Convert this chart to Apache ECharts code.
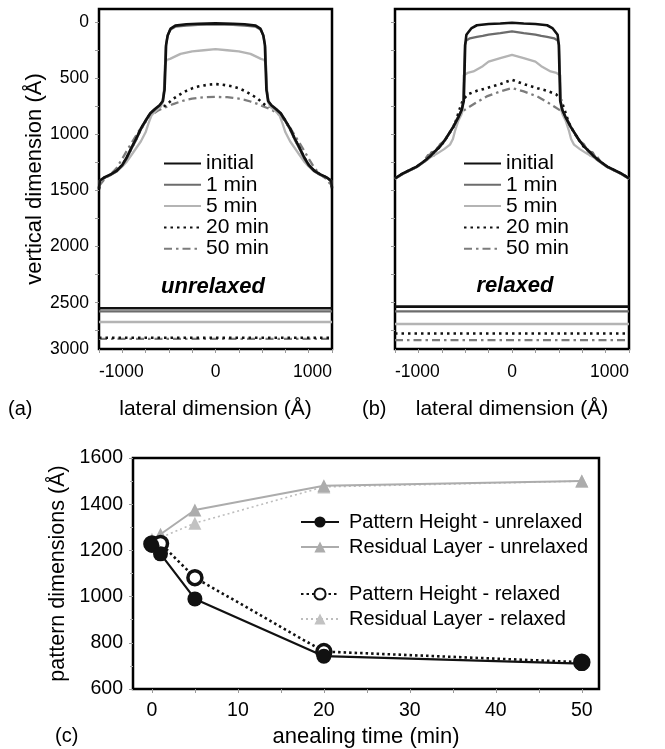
<!DOCTYPE html>
<html>
<head>
<meta charset="utf-8">
<script src="https://cdn.jsdelivr.net/npm/echarts@6/dist/echarts.min.js"></script>
<style>
html, body { margin: 0; padding: 0; background: #fff; }
#main { width: 665px; height: 749px; }
</style>
</head>
<body>
<div id="main"></div>
<script>
// tick labels
var profileTicks = [0, 500, 1000, 1500, 2000, 2500, 3000];
var lateralTicks = [-1000, 0, 1000];
var timeTicks = [0, 10, 20, 30, 40, 50];
var timeMinor = [0, 5, 10, 15, 20, 25, 30, 35, 40, 45, 50];

// (c) annealing data
var times = [0, 1, 5, 20, 50];
var heightUnrelaxed = [1222, 1185, 990, 742, 710];
var residualUnrelaxed = [1240, 1270, 1375, 1480, 1500];
var heightRelaxed = [1228, 1230, 1082, 762, 716];
var residualRelaxed = [1248, 1255, 1318, 1475, 1500];

var curveNames = ['initial', '1 min', '5 min', '20 min', '50 min'];

// (a) unrelaxed profiles [lateral, vertical]
var initialA = [[-1000,1480],[-993,1410],[-950,1380],[-900,1355],[-850,1325],[-800,1270],[-760,1200],[-720,1115],[-680,1035],[-640,945],[-600,875],[-560,810],[-520,772],[-480,738],[-452,700],[-437,600],[-430,400],[-424,200],[-410,115],[-385,55],[-345,28],[-250,16],[-150,12],[0,8],[150,12],[250,16],[345,28],[385,55],[410,115],[424,200],[430,400],[437,600],[452,700],[480,738],[520,772],[560,810],[600,875],[640,945],[680,1035],[720,1115],[760,1200],[800,1270],[850,1325],[900,1355],[950,1380],[993,1410],[1000,1480]];
var min1A = [[-1000,1470],[-993,1412],[-950,1384],[-900,1360],[-850,1330],[-800,1278],[-760,1210],[-720,1125],[-680,1045],[-640,955],[-600,882],[-560,816],[-520,778],[-480,742],[-455,705],[-440,600],[-433,400],[-427,220],[-413,125],[-390,65],[-345,38],[-250,28],[-150,22],[0,18],[150,22],[250,28],[345,38],[390,65],[413,125],[427,220],[433,400],[440,600],[455,705],[480,742],[520,778],[560,816],[600,882],[640,955],[680,1045],[720,1125],[760,1210],[800,1278],[850,1330],[900,1360],[950,1384],[993,1412],[1000,1470]];
var min5A = [[-1000,1475],[-993,1410],[-950,1382],[-900,1358],[-850,1330],[-800,1285],[-760,1240],[-720,1180],[-680,1120],[-640,1060],[-600,980],[-575,900],[-550,830],[-510,785],[-470,752],[-448,700],[-440,550],[-434,380],[-420,335],[-390,325],[-350,305],[-300,280],[-200,258],[-100,248],[0,238],[100,248],[200,258],[300,280],[350,305],[390,325],[420,335],[434,380],[440,550],[448,700],[470,752],[510,785],[550,830],[575,900],[600,980],[640,1060],[680,1120],[720,1180],[760,1240],[800,1285],[850,1330],[900,1358],[950,1382],[993,1410],[1000,1475]];
var min20A = [[-1000,1490],[-993,1415],[-950,1382],[-900,1357],[-850,1326],[-800,1272],[-760,1203],[-720,1118],[-680,1038],[-640,950],[-600,880],[-560,815],[-520,778],[-480,752],[-434,744],[-400,715],[-363,680],[-300,640],[-250,610],[-200,588],[-150,572],[-100,562],[-50,554],[0,550],[50,554],[100,562],[150,572],[200,588],[250,610],[300,640],[363,680],[400,715],[434,744],[480,752],[520,778],[560,815],[600,880],[640,950],[680,1038],[720,1118],[760,1203],[800,1272],[850,1326],[900,1357],[950,1382],[993,1415],[1000,1490]];
var min50A = [[-1000,1460],[-950,1395],[-900,1355],[-850,1300],[-800,1215],[-750,1125],[-700,1040],[-650,955],[-600,880],[-550,825],[-500,790],[-450,765],[-400,745],[-363,728],[-300,705],[-250,690],[-200,680],[-150,672],[-100,667],[0,664],[100,667],[150,672],[200,680],[250,690],[300,705],[363,728],[400,745],[450,765],[500,790],[550,825],[600,880],[650,955],[700,1040],[750,1125],[800,1215],[850,1300],[900,1355],[950,1395],[1000,1460]];
var residualA = [2550, 2578, 2672, 2812, 2822];

// (b) relaxed profiles
var initialB = [[-1000,1390],[-929,1345],[-815,1286],[-760,1245],[-701,1196],[-660,1150],[-615,1107],[-573,1048],[-535,985],[-501,929],[-460,850],[-430,780],[-412,700],[-406,450],[-400,200],[-390,110],[-345,50],[-300,25],[-200,14],[-100,10],[0,2],[100,10],[200,14],[300,25],[345,50],[390,110],[400,200],[406,450],[412,700],[430,780],[460,850],[501,929],[535,985],[573,1048],[615,1107],[660,1150],[701,1196],[760,1245],[815,1286],[929,1345],[1000,1390]];
var min1B = [[-1000,1393],[-929,1348],[-815,1290],[-760,1250],[-726,1226],[-690,1160],[-650,1150],[-613,1085],[-573,1052],[-535,990],[-501,932],[-460,852],[-432,782],[-415,700],[-409,450],[-402,200],[-390,160],[-360,142],[-300,128],[-250,120],[-200,108],[-100,95],[0,80],[100,95],[200,108],[250,120],[300,128],[360,142],[390,160],[402,200],[409,450],[415,700],[432,782],[460,852],[501,932],[535,990],[573,1052],[613,1085],[650,1150],[690,1160],[726,1226],[760,1250],[815,1290],[929,1348],[1000,1393]];
var min5B = [[-1000,1396],[-929,1350],[-815,1292],[-760,1250],[-700,1205],[-640,1170],[-580,1130],[-530,1090],[-505,1040],[-485,960],[-460,880],[-432,820],[-420,780],[-416,600],[-412,470],[-380,450],[-330,437],[-250,390],[-200,350],[-100,318],[0,290],[100,318],[200,350],[250,390],[330,437],[380,450],[412,470],[416,600],[420,780],[432,820],[460,880],[485,960],[505,1040],[530,1090],[580,1130],[640,1170],[700,1205],[760,1250],[815,1292],[929,1350],[1000,1396]];
var min20B = [[-1000,1390],[-929,1346],[-815,1288],[-760,1247],[-701,1198],[-660,1152],[-615,1110],[-573,1050],[-535,988],[-501,932],[-480,880],[-450,780],[-419,690],[-376,640],[-300,610],[-216,586],[-150,565],[-100,550],[-50,530],[0,512],[50,530],[100,550],[150,565],[216,586],[300,610],[376,640],[419,690],[450,780],[480,880],[501,932],[535,988],[573,1050],[615,1110],[660,1152],[701,1198],[760,1247],[815,1288],[929,1346],[1000,1390]];
var min50B = [[-1000,1392],[-929,1347],[-815,1289],[-760,1246],[-715,1180],[-680,1210],[-640,1120],[-600,1080],[-560,1030],[-520,960],[-485,890],[-450,820],[-405,780],[-360,750],[-300,710],[-216,660],[-100,615],[0,585],[100,615],[216,660],[300,710],[360,750],[405,780],[450,820],[485,890],[520,960],[560,1030],[600,1080],[640,1120],[680,1210],[715,1180],[760,1246],[815,1289],[929,1347],[1000,1392]];
var residualB = [2535, 2578, 2690, 2775, 2833];

// the frame of (a) and (b) ends a bit above 3000; its last label sits on the frame
var profAxisMin = -120;
var profAxisMax = 2913;

var FONT = '"Liberation Sans", Arial, sans-serif';
var curveStyles = [
	{ color: '#111', width: 2.6, type: 'solid' },
	{ color: '#6c6c6c', width: 2.3, type: 'solid' },
	{ color: '#b4b4b4', width: 2.3, type: 'solid' },
	{ color: '#111', width: 2.6, type: [2.5, 4] },
	{ color: '#7c7c7c', width: 2.3, type: [8, 4, 2.5, 4] }
];

function plain(v) { return String(v); }

function profileSeries(idx, curves, residual) {
	var out = [];
	for (var i = 0; i < curves.length; i++) {
		var st = curveStyles[i];
		var common = {
			name: curveNames[i],
			type: 'line',
			xAxisIndex: idx,
			yAxisIndex: idx,
			symbol: 'none',
			silent: true,
			animation: false,
			z: 10 - i,
			itemStyle: { color: st.color },
			lineStyle: { color: st.color, width: st.width, type: st.type }
		};
		out.push(Object.assign({}, common, { data: curves[i] }));
		out.push(Object.assign({}, common, { data: [[-1000, residual[i]], [1000, residual[i]]] }));
	}
	return out;
}

function pairs(xs, ys) {
	var d = [];
	for (var i = 0; i < xs.length; i++) d.push([xs[i], ys[i]]);
	return d;
}

function lateralAxis(gi) {
	return {
		type: 'value', gridIndex: gi, min: -1000, max: 1000,
		axisLine: { show: false, onZero: false },
		splitLine: { show: false },
		axisTick: { show: true, length: 4, lineStyle: { color: '#999' },
			customValues: [-1000, -800, -600, -400, -200, 0, 200, 400, 600, 800, 1000] },
		axisLabel: { customValues: lateralTicks, formatter: plain, color: '#000', fontFamily: FONT, fontSize: 17.5,
			margin: 14, alignMinLabel: 'left', alignMaxLabel: 'right' },
		name: 'lateral dimension (Å)', nameLocation: 'middle', nameGap: 50,
		nameTextStyle: { color: '#000', fontFamily: FONT, fontSize: 21 }
	};
}

function profileAxis(gi, showLabels) {
	var ax = {
		type: 'value', gridIndex: gi, inverse: true, min: profAxisMin, max: profAxisMax,
		axisLine: { show: false, onZero: false },
		splitLine: { show: false },
		axisTick: { show: true, length: 4, lineStyle: { color: '#999' },
			customValues: [0, 250, 500, 750, 1000, 1250, 1500, 1750, 2000, 2250, 2500, 2750] },
		axisLabel: {
			show: showLabels,
			customValues: profileTicks.map(function (v) { return Math.min(v, profAxisMax); }),
			formatter: function (v) { return v >= profAxisMax ? String(profileTicks[profileTicks.length - 1]) : String(v); },
			color: '#000', fontFamily: FONT, fontSize: 17.5, margin: 10
		}
	};
	if (showLabels) {
		ax.name = 'vertical dimension (Å)';
		ax.nameLocation = 'middle';
		ax.nameGap = 46;
		ax.nameTextStyle = { color: '#000', fontFamily: FONT, fontSize: 22 };
	}
	return ax;
}

var series = [].concat(
	profileSeries(0, [initialA, min1A, min5A, min20A, min50A], residualA),
	profileSeries(1, [initialB, min1B, min5B, min20B, min50B], residualB)
);

series.push({
	name: 'Residual Layer - relaxed', type: 'line', xAxisIndex: 2, yAxisIndex: 2,
	data: pairs(times, residualRelaxed), symbol: 'triangle', symbolSize: 13, z: 20,
	itemStyle: { color: '#c2c2c2' },
	lineStyle: { color: '#bdbdbd', width: 1.6, type: [2, 3] }
});
series.push({
	name: 'Residual Layer - unrelaxed', type: 'line', xAxisIndex: 2, yAxisIndex: 2,
	data: pairs(times, residualUnrelaxed), symbol: 'triangle', symbolSize: 13, z: 21,
	itemStyle: { color: '#acacac' },
	lineStyle: { color: '#acacac', width: 2 }
});
series.push({
	name: 'Pattern Height - relaxed', type: 'line', xAxisIndex: 2, yAxisIndex: 2,
	data: pairs(times, heightRelaxed), symbol: 'circle', symbolSize: 14, z: 22,
	itemStyle: { color: '#fff', borderColor: '#111', borderWidth: 3.5 },
	lineStyle: { color: '#111', width: 2.6, type: [2.5, 3] }
});
series.push({
	name: 'Pattern Height - unrelaxed', type: 'line', xAxisIndex: 2, yAxisIndex: 2,
	data: pairs(times, heightUnrelaxed), symbol: 'circle', symbolSize: 15, z: 23,
	itemStyle: { color: '#111' },
	lineStyle: { color: '#111', width: 2.2 }
});

var legendBase = {
	orient: 'vertical', padding: 0, selectedMode: false,
	itemWidth: 37, itemHeight: 10, itemGap: 0.3,
	itemStyle: { opacity: 0 },
	textStyle: { color: '#000', fontFamily: FONT, fontSize: 21 }
};
var legendC = {
	orient: 'vertical', padding: 0, selectedMode: false,
	itemWidth: 38, itemHeight: 14, itemGap: 5,
	textStyle: { color: '#000', fontFamily: FONT, fontSize: 20, padding: [0, 0, 0, 5] }
};

var option = {
	backgroundColor: '#fff',
	animation: false,
	grid: [
		{ left: 99, top: 9, width: 233, height: 340, show: true, borderColor: '#000', borderWidth: 2.5 },
		{ left: 395, top: 9, width: 234, height: 340, show: true, borderColor: '#000', borderWidth: 2.5 },
		{ left: 133, top: 458, width: 466, height: 232, show: true, borderColor: '#000', borderWidth: 2.5 }
	],
	xAxis: [
		lateralAxis(0),
		lateralAxis(1),
		{
			type: 'value', gridIndex: 2, min: -2.2, max: 52,
			axisLine: { show: false, onZero: false }, splitLine: { show: false },
			axisTick: { show: true, length: 4, lineStyle: { color: '#999' }, customValues: timeMinor },
			axisLabel: { customValues: timeTicks, formatter: plain, color: '#000', fontFamily: FONT, fontSize: 19.5, margin: 12 },
			name: 'anealing time (min)', nameLocation: 'middle', nameGap: 37,
			nameTextStyle: { color: '#000', fontFamily: FONT, fontSize: 22 }
		}
	],
	yAxis: [
		profileAxis(0, true),
		profileAxis(1, false),
		{
			type: 'value', gridIndex: 2, min: 600, max: 1600, interval: 200,
			axisLine: { show: false, onZero: false }, splitLine: { show: false },
			axisTick: { show: true, length: 4, lineStyle: { color: '#999' } },
			minorTick: { show: true, splitNumber: 2, length: 3, lineStyle: { color: '#aaa' } },
			axisLabel: { formatter: plain, color: '#000', fontFamily: FONT, fontSize: 19.5, margin: 10 },
			name: 'pattern dimensions (Å)', nameLocation: 'middle', nameGap: 54,
			nameTextStyle: { color: '#000', fontFamily: FONT, fontSize: 21.5 }
		}
	],
	legend: [
		Object.assign({}, legendBase, { data: curveNames, left: 163, top: 153 }),
		Object.assign({}, legendBase, { data: curveNames, left: 463, top: 153 }),
		Object.assign({}, legendC, { data: ['Pattern Height - unrelaxed', 'Residual Layer - unrelaxed'], left: 300, top: 512 }),
		Object.assign({}, legendC, { data: ['Pattern Height - relaxed', 'Residual Layer - relaxed'], left: 300, top: 584 })
	],
	graphic: [
		{ type: 'text', left: 8, top: 399, style: { text: '(a)', font: '20px ' + FONT, fill: '#000' } },
		{ type: 'text', left: 362, top: 399, style: { text: '(b)', font: '20px ' + FONT, fill: '#000' } },
		{ type: 'text', left: 55, top: 726, style: { text: '(c)', font: '20px ' + FONT, fill: '#000' } },
		{ type: 'text', x: 213, y: 287, style: { text: 'unrelaxed', font: 'italic bold 22px ' + FONT, fill: '#000', align: 'center', verticalAlign: 'middle' } },
		{ type: 'text', x: 515, y: 286, style: { text: 'relaxed', font: 'italic bold 22px ' + FONT, fill: '#000', align: 'center', verticalAlign: 'middle' } }
	],
	series: series
};

var chart = echarts.init(document.getElementById('main'));
chart.setOption(option);
</script>
</body>
</html>
